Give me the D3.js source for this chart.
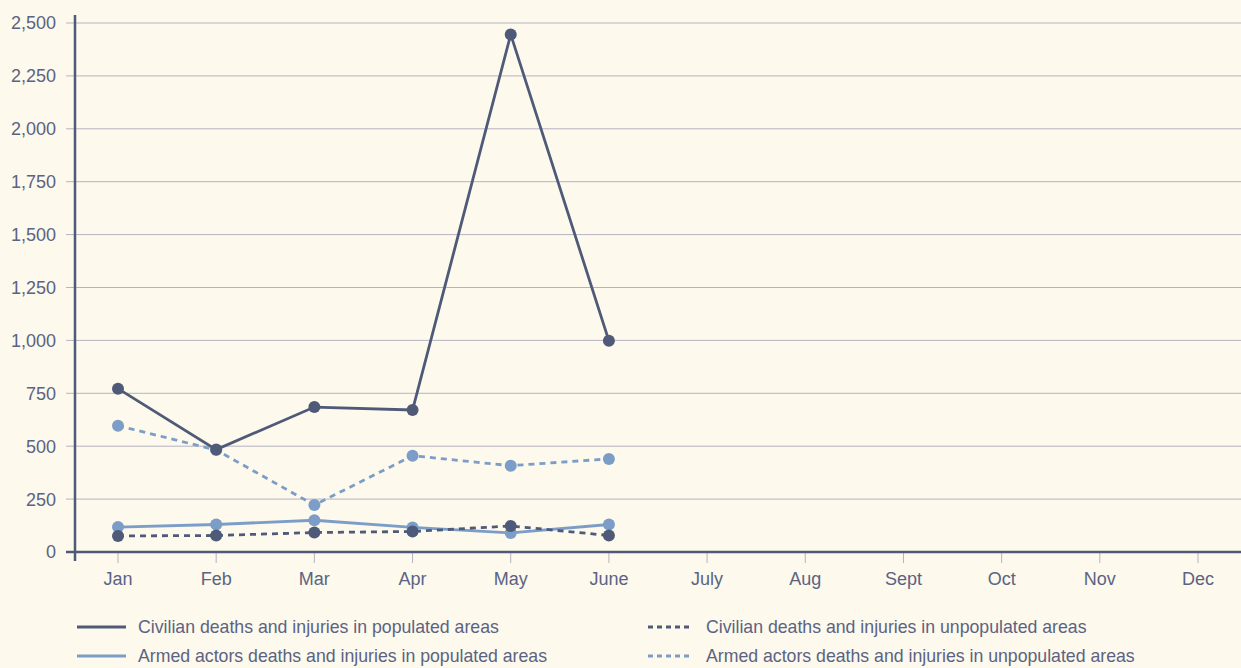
<!DOCTYPE html>
<html>
<head>
<meta charset="utf-8">
<script src="https://cdn.jsdelivr.net/npm/d3@7"></script>
<style>
  body { margin: 0; background: #fdf9ec; }
  svg { display: block; font-family: "Liberation Sans Narrow", "Liberation Sans", sans-serif; }
</style>
</head>
<body>
<div id="app"></div>
<script>
const months = ['Jan', 'Feb', 'Mar', 'Apr', 'May', 'June', 'July', 'Aug', 'Sept', 'Oct', 'Nov', 'Dec']
const y_ticks = [0, 250, 500, 750, 1000, 1250, 1500, 1750, 2000, 2250, 2500]

// values only for Jan - June
const civ_populated = [772, 484, 685, 671, 2446, 998]
const civ_unpopulated = [76, 78, 92, 97, 123, 78]
const armed_populated = [118, 130, 150, 116, 90, 130]
const armed_unpopulated = [597, 482, 222, 455, 408, 440]

const series_names = [
    'Civilian deaths and injuries in populated areas',
    'Armed actors deaths and injuries in populated areas',
    'Civilian deaths and injuries in unpopulated areas',
    'Armed actors deaths and injuries in unpopulated areas'
]

const dark = '#4f5a78'
const light = '#7b9dc8'

const series = [
    { name: series_names[0], values: civ_populated, color: dark, dash: null },
    { name: series_names[1], values: armed_populated, color: light, dash: null },
    { name: series_names[2], values: civ_unpopulated, color: dark, dash: '6,5' },
    { name: series_names[3], values: armed_unpopulated, color: light, dash: '6,5' }
]

const W = 1241, H = 668
const svg = d3.create('svg').attr('width', W).attr('height', H)

const x_scale = d3.scalePoint().domain(months).range([118, 1198])
const y_scale = d3.scaleLinear().domain([0, 2500]).range([552, 23])

// gridlines
svg.append('g')
    .selectAll('line')
    .data(y_ticks.filter(d => d > 0))
    .join('line')
    .attr('x1', 66).attr('x2', W)
    .attr('y1', d => y_scale(d)).attr('y2', d => y_scale(d))
    .attr('stroke', '#b5b3c2').attr('stroke-width', 1)

// y labels
svg.append('g')
    .selectAll('text')
    .data(y_ticks)
    .join('text')
    .attr('x', 56)
    .attr('y', d => y_scale(d))
    .attr('dy', '0.36em')
    .attr('text-anchor', 'end')
    .attr('fill', '#5b6383')
    .style('font-size', '18px')
    .text(d => d3.format(',')(d))

// x ticks
svg.append('g')
    .selectAll('line')
    .data(months)
    .join('line')
    .attr('x1', d => x_scale(d)).attr('x2', d => x_scale(d))
    .attr('y1', 552).attr('y2', 563)
    .attr('stroke', '#b5b3c2')

svg.append('g')
    .selectAll('text')
    .data(months)
    .join('text')
    .attr('x', d => x_scale(d))
    .attr('y', 585)
    .attr('text-anchor', 'middle')
    .attr('fill', '#5b6383')
    .style('font-size', '18px')
    .text(d => d)

// axes
svg.append('line')
    .attr('x1', 66).attr('x2', W)
    .attr('y1', 552).attr('y2', 552)
    .attr('stroke', dark).attr('stroke-width', 2.5)
svg.append('line')
    .attr('x1', 75).attr('x2', 75)
    .attr('y1', 15).attr('y2', 561)
    .attr('stroke', dark).attr('stroke-width', 2.5)

const line = d3.line()
    .x((d, i) => x_scale(months[i]))
    .y(d => y_scale(d))

// draw back to front
const draw_order = [series[3], series[1], series[2], series[0]]

draw_order.forEach(s => {
    const g = svg.append('g')
    g.append('path')
        .attr('d', line(s.values))
        .attr('fill', 'none')
        .attr('stroke', s.color)
        .attr('stroke-width', 2.8)
        .attr('stroke-dasharray', s.dash)
    g.selectAll('circle')
        .data(s.values)
        .join('circle')
        .attr('cx', (d, i) => x_scale(months[i]))
        .attr('cy', d => y_scale(d))
        .attr('r', 6)
        .attr('fill', s.color)
})

// legend
const legend_pos = [
    { x: 77, y: 627 },
    { x: 77, y: 656 },
    { x: 648, y: 627 },
    { x: 648, y: 656 }
]

const lg = svg.append('g')
    .selectAll('g')
    .data(series)
    .join('g')
    .attr('transform', (d, i) => `translate(${legend_pos[i].x},${legend_pos[i].y})`)

lg.append('line')
    .attr('x1', 0)
    .attr('x2', d => d.dash ? 43 : 49)
    .attr('y1', 0).attr('y2', 0)
    .attr('stroke', d => d.color)
    .attr('stroke-width', 2.8)
    .attr('stroke-dasharray', d => d.dash ? '5,4' : null)

lg.append('text')
    .attr('x', (d, i) => i < 2 ? 61 : 58)
    .attr('dy', '0.35em')
    .attr('fill', '#5b6383')
    .style('font-size', '17.7px')
    .text(d => d.name)

d3.select('#app').append(() => svg.node())
</script>
</body>
</html>
